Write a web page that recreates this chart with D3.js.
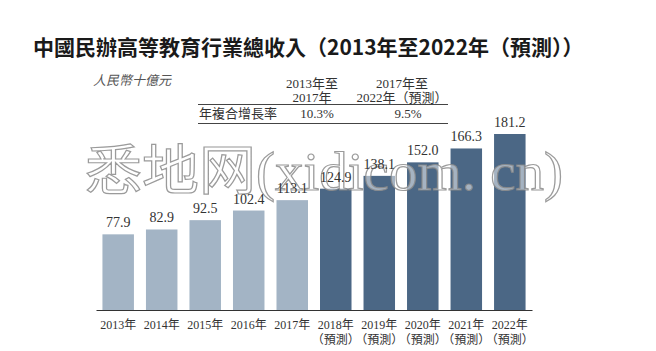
<!DOCTYPE html>
<html>
<head>
<meta charset="utf-8">
<script src="https://cdn.jsdelivr.net/npm/d3@7"></script>
<style>
  body { margin: 0; background: #fff; }
  svg { display: block; }
</style>
</head>
<body>
<div id="chart"></div>
<script>
// Chart data
const years = ["2013年", "2014年", "2015年", "2016年", "2017年", "2018年", "2019年", "2020年", "2021年", "2022年"];
const revenue = [77.9, 82.9, 92.5, 102.4, 113.1, 124.9, 138.1, 152.0, 166.3, 181.2];
const forecast = [false, false, false, false, false, true, true, true, true, true];
const cagrHeaders = [["2013年至", "2017年"], ["2017年至", "2022年（預測）"]];
const cagrValues = ["10.3%", "9.5%"];

const width = 656;
const height = 351;

const serif = "'Liberation Serif', 'Noto Sans CJK TC', serif";
const cjk = "'Noto Sans CJK TC', sans-serif";

const svg = d3.select("#chart")
  .append("svg")
  .attr("width", width)
  .attr("height", height);

// Title
svg.append("text")
  .attr("x", 33)
  .attr("y", 55)
  .attr("font-family", cjk)
  .attr("font-weight", "bold")
  .attr("font-size", 21)
  .attr("fill", "#1a1a1a")
  .text("中國民辦高等教育行業總收入（2013年至2022年（預測））");

// Unit label
svg.append("text")
  .attr("x", 93)
  .attr("y", 85)
  .attr("font-family", cjk)
  .attr("font-style", "italic")
  .attr("font-size", 13)
  .attr("fill", "#555")
  .text("人民幣十億元");

// CAGR table
const colX = [312, 402];
const table = svg.append("g")
  .attr("font-family", serif)
  .attr("font-size", 13)
  .attr("fill", "#333")
  .attr("text-anchor", "middle");

cagrHeaders.forEach((lines, i) => {
  lines.forEach((t, j) => {
    table.append("text")
      .attr("x", colX[i])
      .attr("y", 88 + j * 14)
      .text(t);
  });
});

table.append("text")
  .attr("x", 199)
  .attr("y", 118)
  .attr("text-anchor", "start")
  .text("年複合增長率");

cagrValues.forEach((v, i) => {
  table.append("text")
    .attr("x", colX[i] + (i === 0 ? 5 : 6))
    .attr("y", 118)
    .text(v);
});

[104.5, 123.5].forEach((y) => {
  svg.append("line")
    .attr("x1", 198)
    .attr("x2", 448)
    .attr("y1", y)
    .attr("y2", y)
    .attr("stroke", "#444")
    .attr("stroke-width", 1);
});

// Scales
const x = d3.scaleBand()
  .domain(years)
  .range([96, 532])
  .paddingInner(0.276)
  .paddingOuter(0.148);

const y = d3.scaleLinear()
  .domain([0, 181.2])
  .range([310, 134]);

const data = years.map((yr, i) => ({ year: yr, value: revenue[i], forecast: forecast[i] }));

// Bars
svg.selectAll(".bar")
  .data(data)
  .enter()
  .append("rect")
  .attr("class", "bar")
  .attr("x", (d) => x(d.year))
  .attr("y", (d) => y(d.value))
  .attr("width", x.bandwidth())
  .attr("height", (d) => y(0) - y(d.value))
  .attr("fill", (d) => (d.forecast ? "#4b6785" : "#a3b4c5"));

// Watermark (over the bars, under the value labels)
svg.append("text")
  .attr("x", 85)
  .attr("y", 190)
  .attr("textLength", 478)
  .attr("lengthAdjust", "spacingAndGlyphs")
  .attr("font-family", "'Liberation Serif', 'Noto Sans CJK SC', serif")
  .attr("font-size", 54)
  .attr("fill", "#ffffff")
  .attr("fill-opacity", 0.5)
  .attr("stroke", "#8a8a8a")
  .attr("stroke-opacity", 0.85)
  .attr("stroke-width", 1.2)
  .text("悉地网(xidicom. cn)");

// Value labels
svg.selectAll(".val")
  .data(data)
  .enter()
  .append("text")
  .attr("class", "val")
  .attr("x", (d) => x(d.year) + x.bandwidth() / 2)
  .attr("y", (d) => y(d.value) - 7)
  .attr("text-anchor", "middle")
  .attr("font-family", serif)
  .attr("font-size", 14)
  .attr("fill", "#333")
  .text((d) => d.value.toFixed(1));

// X axis
const xAxis = svg.append("g")
  .attr("transform", `translate(0,${y(0)})`)
  .call(d3.axisBottom(x).tickSize(0).tickSizeOuter(0));

xAxis.select(".domain")
  .attr("stroke", "#333")
  .attr("stroke-width", 1.2);

xAxis.selectAll(".tick text").remove();

xAxis.selectAll(".tick")
  .append("text")
  .attr("y", 19)
  .attr("fill", "#333")
  .attr("font-family", serif)
  .attr("font-size", 12)
  .attr("text-anchor", "middle")
  .text((d) => d);

xAxis.selectAll(".tick")
  .filter((d, i) => forecast[i])
  .append("text")
  .attr("y", 34)
  .attr("fill", "#333")
  .attr("font-family", serif)
  .attr("font-size", 12)
  .attr("text-anchor", "middle")
  .text("（預測）");
</script>
</body>
</html>
